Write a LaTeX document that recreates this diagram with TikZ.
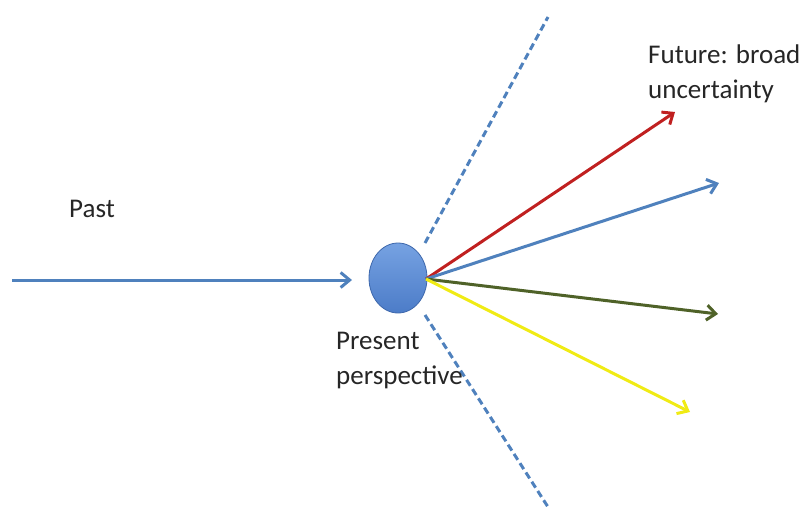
\documentclass[tikz,border=0pt]{standalone}
\usepackage{fontspec}
\setmainfont{Carlito}
\usetikzlibrary{arrows.meta,shapes.geometric}
\definecolor{obl}{RGB}{79,129,189}
\definecolor{eltop}{RGB}{118,162,226}
\definecolor{elbot}{RGB}{76,124,200}
\definecolor{eldraw}{RGB}{62,104,172}
\definecolor{ored}{RGB}{192,32,32}
\definecolor{ogreen}{RGB}{79,98,40}
\definecolor{oyellow}{RGB}{240,235,20}
\tikzset{
  ray/.style={line width=3pt,-{Straight Barb[length=9pt,width=15pt,line width=3pt]}},
  bound/.style={obl,line width=3pt,dash pattern=on 7pt off 4pt},
  lbl/.style={font=\fontsize{27}{35}\selectfont,text=black!85,align=left,inner sep=0pt,anchor=base west}
}
\begin{document}
\begin{tikzpicture}[x=1pt,y=-1pt]
\useasboundingbox (0,0) rectangle (803,509);
\node[ellipse,minimum width=58pt,minimum height=70pt,draw=eldraw,line width=0.8pt,
  top color=eltop,bottom color=elbot,inner sep=0pt] (p) at (398,278) {};
\coordinate (s) at (12,280);
\coordinate (pe) at (352,280);
\coordinate (o) at (426,279);
\coordinate (r) at (675,112);
\coordinate (b) at (719,183);
\coordinate (g) at (718,314);
\coordinate (y) at (690,412);
\coordinate (u1) at (425,243);
\coordinate (u2) at (548,17);
\coordinate (l1) at (425,315);
\coordinate (l2) at (548,507);
\draw[ray,obl] (s) -- (pe);
\draw[bound] (u1) -- (u2);
\draw[bound] (l1) -- (l2);
\draw[ray,ored] (o) -- (r);
\draw[ray,obl] (o) -- (b);
\draw[ray,ogreen] (o) -- (g);
\draw[ray,oyellow] (o) -- (y);
\node[lbl] (past) at (69,217) {Past};
\node[lbl] (fut) at (648,98) {Future: broad\\uncertainty};
\node[lbl] (pres) at (336,384) {Present\\perspective};
\end{tikzpicture}
\end{document}
